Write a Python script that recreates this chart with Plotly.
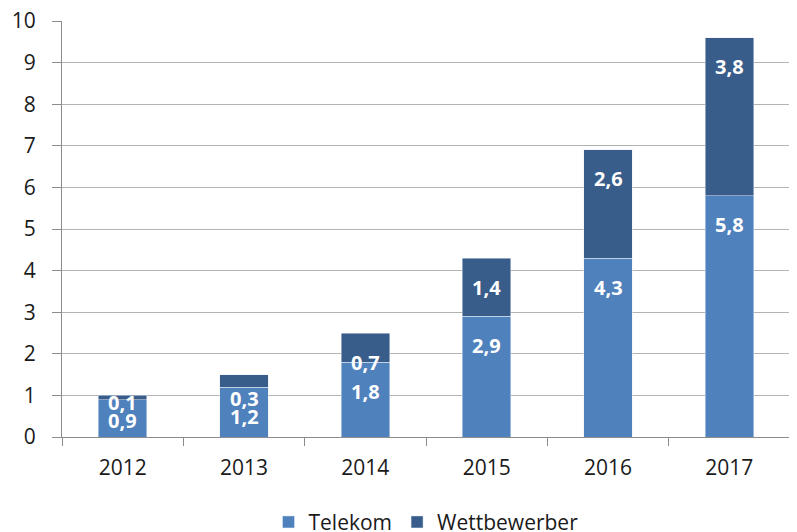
import plotly.graph_objects as go

# Daten
years = ['2012', '2013', '2014', '2015', '2016', '2017']
telekom = [0.9, 1.2, 1.8, 2.9, 4.3, 5.8]
wettbewerber = [0.1, 0.3, 0.7, 1.4, 2.6, 3.8]
y_ticks = [0, 1, 2, 3, 4, 5, 6, 7, 8, 9, 10]


def de(v):
    return f'{v:.1f}'.replace('.', ',')


FONT = 'Open Sans, Liberation Sans, sans-serif'
W, H = 789, 524                 # Seite hat 8px Rand
M = dict(l=54, r=7, t=13, b=95)
PPU = (H - M['t'] - M['b']) / 10  # px pro Einheit

fig = go.Figure()
fig.add_trace(go.Bar(x=years, y=telekom, name='Telekom', marker_color='#4F81BD'))
fig.add_trace(go.Bar(x=years, y=wettbewerber, name='Wettbewerber', marker_color='#385D8A'))

# Datenbeschriftungen wie in Excel ("innerhalb Ende", Überlappungen nach oben geschoben)
for i, (t, w) in enumerate(zip(telekom, wettbewerber)):
    t_c = max(t * PPU - 29, 17)
    w_c = max((t + w) * PPU - 29, t_c + 18)
    for top, val, c in ((t, t, t_c), (t + w, w, w_c)):
        fig.add_annotation(x=i, y=top, text=f'<b>{de(val)}</b>', showarrow=False,
                           yshift=c - top * PPU, yanchor='middle',
                           font=dict(family=FONT, size=20, color='white'))

fig.update_layout(
    barmode='stack', bargap=0.6,
    width=W, height=H,
    margin=dict(**M, autoexpand=False),
    plot_bgcolor='white', paper_bgcolor='white',
    font=dict(family=FONT, size=21, color='#1a1a1a'),
    legend=dict(orientation='h', x=0.5, xanchor='center', y=-0.205, yanchor='middle',
                font=dict(size=21), traceorder='normal'),
)
fig.update_xaxes(type='category', range=[-0.5, len(years) - 0.5], autorange=False,
                 showline=True, linecolor='#8c8c8c', ticks='outside',
                 tickson='boundaries', ticklen=8, tickcolor='#8c8c8c', showgrid=False,
                 automargin=False, ticklabelstandoff=12, tickangle=0)
fig.update_yaxes(range=[0, 10.0001], autorange=False, tickmode='array', tickvals=y_ticks,
                 showline=True, linecolor='#8c8c8c',
                 gridcolor='#b3b3b3', ticks='outside', ticklen=9, tickcolor='#8c8c8c',
                 zeroline=False, automargin=False, ticklabelstandoff=12,
                 ticklabeloverflow='allow')

fig.write_html('out.html')
